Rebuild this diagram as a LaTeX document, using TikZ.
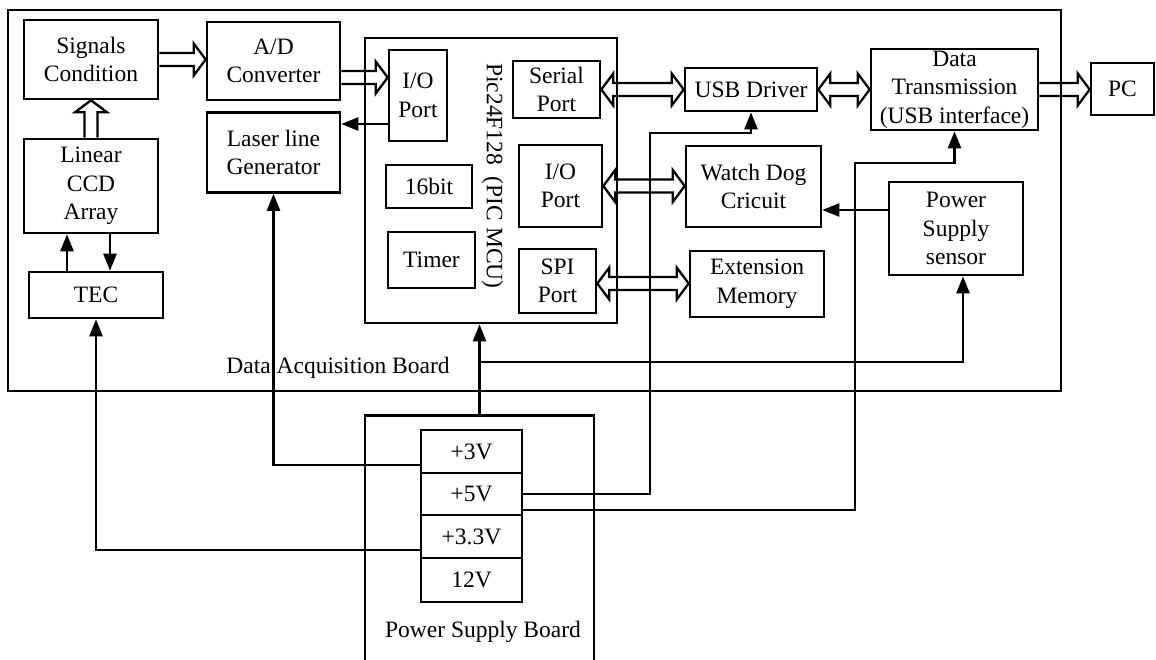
\documentclass[tikz,border=0pt]{standalone}
\usepackage{fontspec}
\setmainfont{Liberation Serif}
\usetikzlibrary{arrows.meta,calc}
\newcommand\diagfont{\fontsize{23.5}{28.5}\selectfont}
\begin{document}
\begin{tikzpicture}[x=1pt,y=-1pt,
  box/.style={draw, line width=2.6pt, align=center, inner sep=0pt, font=\diagfont},
  wh/.style 2 args={minimum width=#1pt, minimum height=#2pt},
  lbl/.style={font=\diagfont, inner sep=0pt},
  conn/.style={line width=2.4pt, -{Triangle[length=17pt,width=13pt]}},
  hol/.style={line width=2.3pt, line join=miter},
  hollowR/.style={hol, to path={let \p1=(\tikztostart), \p2=(\tikztotarget) in
    (\x1,\y1+6.5pt) -- (\x2-12pt,\y1+6.5pt) -- (\x2-12pt,\y1+16pt) -- (\x2,\y1)
    -- (\x2-12pt,\y1-16pt) -- (\x2-12pt,\y1-6.5pt) -- (\x1,\y1-6.5pt)}},
  hollowLR/.style={hol, to path={let \p1=(\tikztostart), \p2=(\tikztotarget) in
    (\x1,\y1) -- (\x1+12pt,\y1+16pt) -- (\x1+12pt,\y1+6.5pt) -- (\x2-12pt,\y1+6.5pt)
    -- (\x2-12pt,\y1+16pt) -- (\x2,\y1) -- (\x2-12pt,\y1-16pt) -- (\x2-12pt,\y1-6.5pt)
    -- (\x1+12pt,\y1-6.5pt) -- (\x1+12pt,\y1-16pt) -- cycle}},
  hollowU/.style={hol, to path={let \p1=(\tikztostart), \p2=(\tikztotarget) in
    (\x1-6.5pt,\y1) -- (\x1-6.5pt,\y2-12pt) -- (\x1-16pt,\y2-12pt) -- (\x1,\y2)
    -- (\x1+16pt,\y2-12pt) -- (\x1+6.5pt,\y2-12pt) -- (\x1+6.5pt,\y1)}}
]
\useasboundingbox (0,0) rectangle (1156,659);
\fill[white] (0,0) rectangle (1156,659);
\clip (0,0) rectangle (1156,659);

% outer board
\draw[line width=1.4pt] (8,10) rectangle (1061,391);
\node[lbl] (dab) at (338,368) {Data Acquisition Board};

% left blocks
\node[box,wh={134}{79}] (sig) at (91,59.5) {Signals\\Condition};
\node[box,wh={133}{78}] (ad) at (273.5,61) {A/D\\Converter};
\node[box,wh={133}{80}] (laser) at (273.5,152.5) {Laser line\\Generator};
\node[box,wh={134}{94}] (ccd) at (91,186) {Linear\\CCD\\Array};
\node[box,wh={134}{46}] (tec) at (96,295) {TEC};

% MCU
\node[box,wh={252}{285}] (mcu) at (491,180.5) {};
\node[lbl, rotate=-90] (mcul) at (492.5,176) {Pic24F128\ \ (PIC MCU)};
\node[box,wh={58}{91}] (io1) at (418,95.5) {I/O\\Port};
\node[box,wh={86}{43}] (b16) at (429,186.5) {16bit};
\node[box,wh={87}{56}] (timer) at (431.5,260) {Timer};
\node[box,wh={87}{57}] (serial) at (556.5,89.5) {Serial\\Port};
\node[box,wh={83}{82}] (io2) at (560.5,186) {I/O\\Port};
\node[box,wh={77}{64}] (spi) at (557.5,281) {SPI\\Port};

% right blocks
\node[box,wh={132}{43}] (usb) at (751,89.5) {USB Driver};
\node[box,wh={135}{81}] (wd) at (753.5,186.5) {Watch Dog\\Cricuit};
\node[box,wh={134}{66}] (ext) at (757,284) {Extension\\Memory};
\node[box,wh={167}{81}] (dt) at (954.5,89.5) {Data\\Transmission\\(USB interface)};
\node[box,wh={134}{93}] (pss) at (956,228.5) {Power\\Supply\\sensor};
\node[box,wh={63}{52}] (pc) at (1122.5,89) {PC};

% power supply board
\node[draw, line width=2.6pt, wh={229}{300}, inner sep=0pt, anchor=north] (psb) at (479.5,414) {};
\node[lbl] (psbl) at (483,632) {Power Supply Board};
\node[box,wh={101}{43}] (v3) at (471.5,451.5) {+3V};
\node[box,wh={101}{42}] (v5) at (471.5,494) {+5V};
\node[box,wh={101}{43}] (v33) at (471.5,536.5) {+3.3V};
\node[box,wh={101}{44}] (v12) at (471.5,580) {12V};

% hollow (bus) arrows
\draw[hollowR] (sig.east) to (ad.west);
\draw[hollowR] ([yshift=-16.5pt]ad.east) to (io1.west);
\draw[hollowU] (ccd.north) to (sig.south);
\draw[hollowLR] (serial.east) to (usb.west);
\draw[hollowLR] (io2.east) to (wd.west);
\draw[hollowLR] ([yshift=-2.5pt]spi.east) to (ext.west);
\draw[hollowLR] (usb.east) to (dt.west);
\draw[hollowR] (dt.east) to (pc.west);

% signal arrows
\draw[conn] ([yshift=-28.5pt]io1.west) -- ([yshift=28.5pt]laser.east);
\draw[conn] ([xshift=-29pt]tec.north) -- ([xshift=-24pt]ccd.south);
\draw[conn] ([xshift=19pt]ccd.south) -- ([xshift=14pt]tec.north);
\draw[conn] ([yshift=18.5pt]pss.west) -- ([yshift=-23.5pt]wd.east);

% power lines
\draw[conn] ([yshift=-13.5pt]v3.west) -| (laser.south);
\draw[conn] (v5.east) -| (650,133) -| (usb.south);
\draw[conn] ([yshift=-16pt]v5.east) -| (855,163) -| (dt.south);
\draw[conn] ([yshift=-13.5pt]v33.west) -| (tec.south);
\draw[conn] (psb.north) -- (psb.north |- mcu.south);
\coordinate (br) at (479.5,362);
\draw[conn] (br) -| ([xshift=7pt]pss.south);
\end{tikzpicture}
\end{document}
